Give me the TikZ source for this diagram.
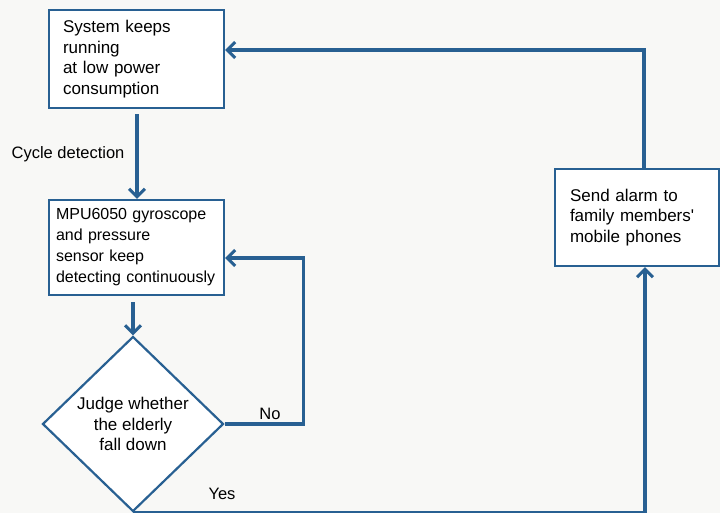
\documentclass[tikz,border=0pt]{standalone}
\usepackage{fontspec}
\setmainfont{Liberation Sans}
\usetikzlibrary{positioning,arrows.meta,shapes.geometric}
\definecolor{flowblue}{RGB}{40,96,146}
\definecolor{paper}{RGB}{248,248,246}
\tikzset{
  flowarrow/.style={-{Straight Barb[length=8pt, width=16pt, line width=3pt]}, line width=3.2pt, draw=flowblue},
  stepbox/.style={draw=flowblue, line width=2.2pt, fill=white, align=left, inner ysep=2pt},
  judgebox/.style={diamond, draw=flowblue, line width=2.2pt, fill=white, align=center, inner sep=0pt},
  relabel/.style={font=\fontsize{16.5}{19}\selectfont, inner sep=1pt}
}

\begin{document}
\begin{tikzpicture}[x=1pt, y=-1pt, every node/.style={font=\fontsize{17}{20.5}\selectfont}]
      \fill[paper] (0,0) rectangle (720,513);
      \useasboundingbox (0,0) rectangle (720,513);
      % boxes
      \node[stepbox, inner xsep=14pt, text width=147pt, minimum height=98pt] (sys) at (136.5,59)
        {System keeps\\running\\at low power\\consumption};
      \node[stepbox, inner xsep=7pt, text width=161pt, minimum height=95pt,
        font=\fontsize{16}{21}\selectfont] (mpu) at (136.5,247.5)
        {MPU6050 gyroscope\\and pressure\\sensor keep\\detecting continuously};
      \node[judgebox, minimum width=181pt, minimum height=175pt] (judge) at (133,424)
        {Judge whether\\the elderly\\fall down};
      \node[stepbox, inner xsep=15pt, text width=134pt, minimum height=97pt] (alarm) at (637,217.5)
        {Send alarm to\\family members\textquotesingle\\mobile phones};
      % connectors
      \draw[flowarrow, shorten <=5pt] ([xshift=0.5pt]sys.south) -- ([xshift=0.5pt]mpu.north)
        node[relabel, midway, left=10pt] {Cycle detection};
      \draw[flowarrow, shorten <=6pt] (mpu.south -| judge.north) -- (judge.north);
      \draw[flowarrow] (judge.east) -- ++(79,0) coordinate (nocorner) |- ([yshift=-10.5pt]mpu.east);
      \node[relabel] (nolabel) at (270,414) {No};
      \draw[flowarrow] (judge.south) -| ([xshift=8pt]alarm.south);
      \node[relabel] (yeslabel) at (222,494) {Yes};
      \draw[flowarrow] ([xshift=7pt]alarm.north) |- ([yshift=9pt]sys.east);
    \end{tikzpicture}
\end{document}
